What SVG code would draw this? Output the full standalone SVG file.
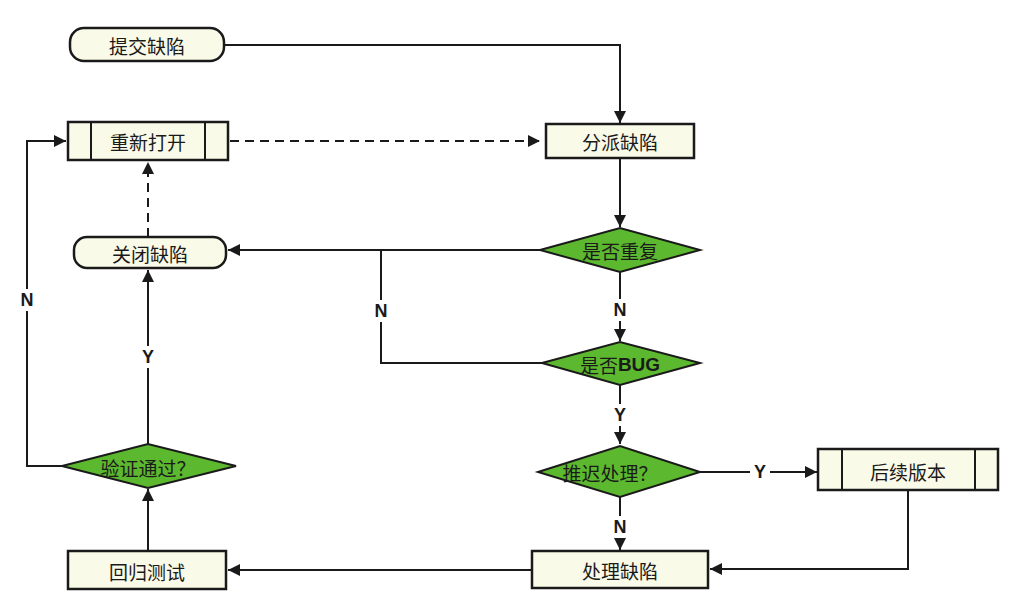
<svg xmlns="http://www.w3.org/2000/svg" width="1029" height="612" viewBox="0 0 1029 612">
<style>
.box{fill:#fafae8;stroke:#1a1a1a;stroke-width:2.5}
.dia{fill:#5cb82e;stroke:#1a1a1a;stroke-width:2}
.ln{fill:none;stroke:#1a1a1a;stroke-width:2}
.dash{stroke-dasharray:9,6}
.t{font-family:"Noto Sans CJK SC","Liberation Serif",serif;font-size:19px;fill:#1a1a1a;text-anchor:middle;dominant-baseline:central}
.l{font-family:"Liberation Sans",Arial,sans-serif;font-weight:bold;font-size:18px;fill:#1a1a1a;text-anchor:middle;dominant-baseline:central}
</style>
<defs>
<marker id="a" viewBox="0 0 10 10" refX="10" refY="5" markerWidth="12" markerHeight="12" markerUnits="userSpaceOnUse" orient="auto"><path d="M0,0 L10,5 L0,10 z" fill="#1a1a1a"/></marker>
</defs>
<rect width="1029" height="612" fill="#fff"/>
<g id="connectors">
<path class="ln" d="M224,45 H620 V123" marker-end="url(#a)"/>
<path class="ln dash" d="M230,141 H540" marker-end="url(#a)"/>
<path class="ln" d="M620,158 V227" marker-end="url(#a)"/>
<path class="ln" d="M540,250 H228" marker-end="url(#a)"/>
<path class="ln" d="M542,363 H381 V250"/>
<path class="ln" d="M620,272 V341" marker-end="url(#a)"/>
<path class="ln" d="M620,385 V444" marker-end="url(#a)"/>
<path class="ln" d="M700,472 H817" marker-end="url(#a)"/>
<path class="ln" d="M908,490 V569 H710" marker-end="url(#a)"/>
<path class="ln" d="M620,497 V550" marker-end="url(#a)"/>
<path class="ln" d="M532,570 H228" marker-end="url(#a)"/>
<path class="ln" d="M148,551 V489" marker-end="url(#a)"/>
<path class="ln" d="M148,444 V270" marker-end="url(#a)"/>
<path class="ln dash" d="M148,237 V162" marker-end="url(#a)"/>
<path class="ln" d="M62,466 H27 V141 H66" marker-end="url(#a)"/>
<rect x="372" y="300" width="18" height="22" fill="#fff"/><text class="l" x="381" y="311">N</text>
<rect x="611" y="299" width="18" height="22" fill="#fff"/><text class="l" x="620" y="310">N</text>
<rect x="611" y="404" width="18" height="22" fill="#fff"/><text class="l" x="620" y="415">Y</text>
<rect x="750" y="461" width="20" height="22" fill="#fff"/><text class="l" x="760" y="472">Y</text>
<rect x="611" y="516" width="18" height="22" fill="#fff"/><text class="l" x="620" y="527">N</text>
<rect x="139" y="346" width="18" height="22" fill="#fff"/><text class="l" x="148" y="357">Y</text>
<rect x="18" y="289" width="18" height="22" fill="#fff"/><text class="l" x="27" y="300">N</text>
</g>
<g id="submit"><rect class="box" x="70" y="28" width="154" height="33" rx="14"/><text class="t" x="147" y="45">提交缺陷</text></g>
<g id="reopen"><rect class="box" x="68" y="122" width="160" height="38"/><line class="ln" x1="91" y1="122" x2="91" y2="160"/><line class="ln" x1="205" y1="122" x2="205" y2="160"/><text class="t" x="148" y="141">重新打开</text></g>
<g id="assign"><rect class="box" x="546" y="124" width="148" height="34"/><text class="t" x="620" y="141">分派缺陷</text></g>
<g id="close"><rect class="box" x="74" y="237" width="152" height="31" rx="13"/><text class="t" x="150" y="253">关闭缺陷</text></g>
<g id="dup"><polygon class="dia" points="540,250 620,228 700,250 620,272"/><text class="t" x="620" y="250">是否重复</text></g>
<g id="bug"><polygon class="dia" points="542,363 620,342 700,363 620,385"/><text class="t" x="620" y="364">是否<tspan font-family="Liberation Sans" font-weight="bold">BUG</tspan></text></g>
<g id="defer"><polygon class="dia" points="538,472 620,446 700,472 620,497"/><text class="t" x="610" y="472">推迟处理？</text></g>
<g id="later"><rect class="box" x="818" y="449" width="180" height="41"/><line class="ln" x1="842" y1="449" x2="842" y2="490"/><line class="ln" x1="975" y1="449" x2="975" y2="490"/><text class="t" x="908" y="471">后续版本</text></g>
<g id="handle"><rect class="box" x="532" y="551" width="176" height="37"/><text class="t" x="620" y="570">处理缺陷</text></g>
<g id="regress"><rect class="box" x="68" y="551" width="158" height="38"/><text class="t" x="147" y="571">回归测试</text></g>
<g id="verify"><polygon class="dia" points="62,466 148,444 236,466 148,488"/><text class="t" x="148" y="467">验证通过？</text></g>
</svg>
